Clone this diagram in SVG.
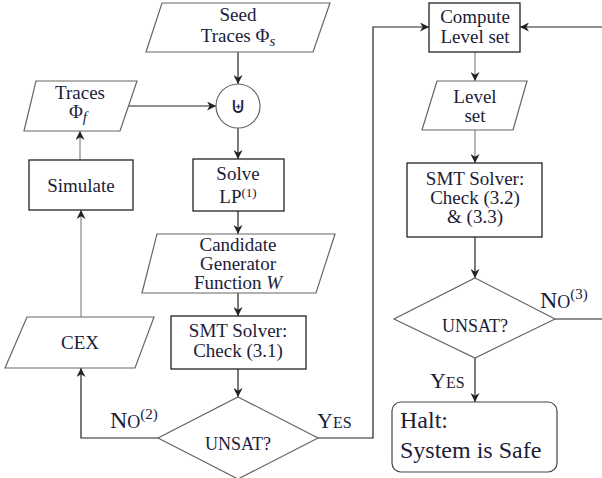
<svg xmlns="http://www.w3.org/2000/svg" width="602" height="478" viewBox="0 0 602 478">
<style>
  text { font-family: "Liberation Serif", "DejaVu Serif", serif; fill: #1c1c38; font-size: 19px; }
  .c { text-anchor: middle; }
  .s18 { font-size: 18px; }
  .s24 { font-size: 24px; }
  .sym { font-family: "DejaVu Sans", sans-serif; font-size: 22px; }
  .box { fill: #fff; stroke: #222; stroke-width: 1.3; }
  .para { fill: #fff; stroke: #666; stroke-width: 1.2; }
  .dia { fill: #fff; stroke: #666; stroke-width: 1.2; }
  .conn { fill: none; stroke: #222; stroke-width: 1.2; }
  .gconn { fill: none; stroke: #888; stroke-width: 1.2; }
</style>
<defs>
  <marker id="arr" viewBox="0 0 10 10" refX="10" refY="5" markerWidth="9" markerHeight="9" markerUnits="userSpaceOnUse" orient="auto">
    <path d="M0,0 L10,5 L0,10 L3,5 z" fill="#222"/>
  </marker>
</defs>
<rect width="602" height="478" fill="#fff"/>

<g id="connectors">
  <path class="conn" d="M238,52 V84" marker-end="url(#arr)"/>
  <path class="conn" d="M129,106 H216" marker-end="url(#arr)"/>
  <path class="conn" d="M238,128 V159" marker-end="url(#arr)"/>
  <path class="conn" d="M238,211 V234" marker-end="url(#arr)"/>
  <path class="conn" d="M238,293 V316" marker-end="url(#arr)"/>
  <path class="conn" d="M238,369 V397" marker-end="url(#arr)"/>
  <path class="conn" d="M158,438 H81 V368" marker-end="url(#arr)"/>
  <path class="gconn" d="M81,317 V210" marker-end="url(#arr)"/>
  <path class="gconn" d="M80,160 V131" marker-end="url(#arr)"/>
  <path class="conn" d="M318,438 H373 V27 H429" marker-end="url(#arr)"/>
  <path class="conn" d="M602,27 H520" marker-end="url(#arr)"/>
  <path class="gconn" d="M475,52 V81" marker-end="url(#arr)"/>
  <path class="gconn" d="M475,130 V163" marker-end="url(#arr)"/>
  <path class="conn" d="M475,237 V278" marker-end="url(#arr)"/>
  <path class="conn" d="M555,319 H602"/>
  <path class="conn" d="M475,358 V402" marker-end="url(#arr)"/>
  <text x="110" y="428"><tspan font-size="24">N</tspan><tspan font-size="18">O</tspan><tspan font-size="15" dy="-9">(2)</tspan></text>
  <text x="317" y="428"><tspan font-size="22">Y</tspan><tspan font-size="16">ES</tspan></text>
  <text x="540" y="308"><tspan font-size="24">N</tspan><tspan font-size="18">O</tspan><tspan font-size="15" dy="-9">(3)</tspan></text>
  <text x="430" y="388"><tspan font-size="22">Y</tspan><tspan font-size="16">ES</tspan></text>
</g>

<g id="seed">
  <polygon class="para" points="162,3 330,3 313,52 146,52"/>
  <text class="c" x="238" y="21">Seed</text>
  <text class="c" x="238" y="42">Traces Φ<tspan font-style="italic" font-size="15" dy="4">s</tspan></text>
</g>

<g id="union">
  <circle cx="238" cy="106" r="22" fill="#fff" stroke="#666" stroke-width="1.2"/>
  <text class="c sym" x="238" y="113">⊎</text>
</g>

<g id="tracesf">
  <polygon class="para" points="36,81 137,81 120,131 24,131"/>
  <text class="c" x="80" y="99">Traces</text>
  <text class="c" x="78" y="118">Φ<tspan font-style="italic" font-size="15" dy="4">f</tspan></text>
</g>

<g id="simulate">
  <rect class="box" x="29" y="160" width="104" height="50"/>
  <text class="c" x="81" y="192">Simulate</text>
</g>

<g id="solvelp">
  <rect class="box" x="193" y="159" width="91" height="52"/>
  <text class="c" x="238" y="180">Solve</text>
  <text class="c" x="238" y="203">LP<tspan font-size="13" dy="-6">(1)</tspan></text>
</g>

<g id="candidate">
  <polygon class="para" points="157,234 335,234 316,293 142,293"/>
  <text class="c" x="238" y="251">Candidate</text>
  <text class="c" x="238" y="270">Generator</text>
  <text class="c" x="238" y="289">Function <tspan font-style="italic">W</tspan></text>
</g>

<g id="smt1">
  <rect class="box" x="171" y="316" width="135" height="53"/>
  <text class="c" x="238" y="337">SMT Solver:</text>
  <text class="c" x="238" y="357">Check (3.1)</text>
</g>

<g id="unsat1">
  <polygon class="dia" points="238,397 318,438 238,479 158,438"/>
  <text class="c s18" x="238" y="450">UNSAT?</text>
</g>

<g id="cex">
  <polygon class="para" points="27,317 154,317 135,368 5,368"/>
  <text class="c" x="80" y="349">CEX</text>
</g>

<g id="compute">
  <rect class="box" x="429" y="3" width="91" height="49"/>
  <text class="c" x="475" y="23">Compute</text>
  <text class="c" x="475" y="43">Level set</text>
</g>

<g id="levelset">
  <polygon class="para" points="437,81 527,81 513,130 422,130"/>
  <text class="c" x="475" y="103">Level</text>
  <text class="c" x="475" y="122">set</text>
</g>

<g id="smt2">
  <rect class="box" x="407" y="163" width="135" height="74"/>
  <text class="c" x="475" y="185">SMT Solver:</text>
  <text class="c" x="475" y="204">Check (3.2)</text>
  <text class="c" x="475" y="223">&amp; (3.3)</text>
</g>

<g id="unsat2">
  <polygon class="dia" points="475,278 555,319 475,358 394,319"/>
  <text class="c s18" x="475" y="332">UNSAT?</text>
</g>

<g id="halt">
  <rect x="392" y="402" width="165" height="70" rx="9" ry="9" fill="#fff" stroke="#444" stroke-width="1.2"/>
  <text class="s24" x="400" y="428">Halt:</text>
  <text class="s24" x="400" y="458">System is Safe</text>
</g>
</svg>
